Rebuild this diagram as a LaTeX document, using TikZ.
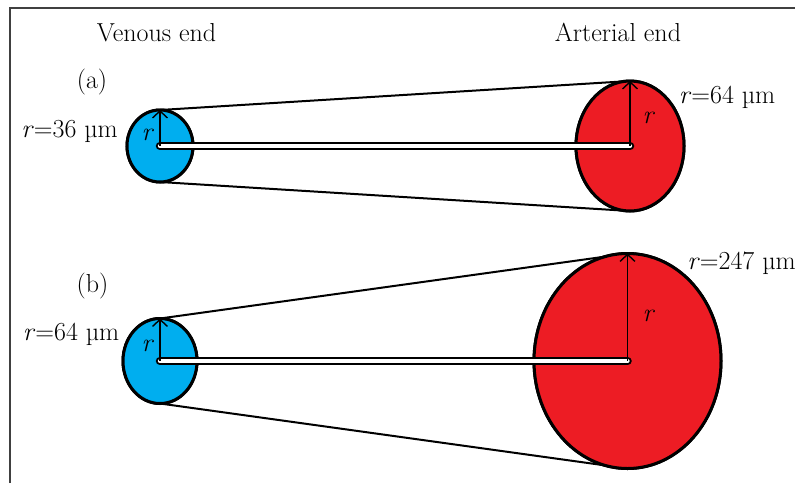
\documentclass[tikz,border=0pt]{standalone}
\usepackage{fontspec}
\usetikzlibrary{shapes.geometric,arrows.meta}
\definecolor{venous}{RGB}{0,174,239}
\definecolor{arterial}{RGB}{237,28,36}
\tikzset{
  lbl/.style={font=\fontsize{26}{30}\selectfont, inner sep=0pt},
  rlbl/.style={font=\fontsize{26}{30}\selectfont\itshape, inner sep=0pt},
  vessel/.style={ellipse, draw=black, line width=3pt, inner sep=0pt, outer sep=0pt},
  taper/.style={line width=2pt},
  radius/.style={line width=1.4pt, -{Straight Barb[length=7pt,width=15pt,line width=1.4pt]}},
}
\newcommand{\tube}[2]{%
  \draw[line width=8.5pt, line cap=round] (#1.center) -- (#2.center);
  \draw[white, line width=4.3pt, line cap=round] (#1.center) -- (#2.center);}
\begin{document}
\begin{tikzpicture}[x=1pt,y=-1pt]
\useasboundingbox (0,0) rectangle (795,483);
\draw[line width=2pt, black!75] (10,483) -- (10,8) -- (795,8);
% labels
\node[lbl, anchor=base] (ven) at (156.5,41) {Venous end};
\node[lbl, anchor=base] (art) at (618,41) {Arterial end};
\node[lbl] (la) at (92,82) {(a)};
\node[lbl] (lb) at (92.5,286) {(b)};
% (a)
\node[vessel, fill=venous, minimum width=66pt, minimum height=72pt] (va) at (160,146) {};
\node[vessel, fill=arterial, minimum width=108pt, minimum height=130pt] (ra) at (630,146) {};
\draw[taper] (va.north) -- (ra.north);
\draw[taper] (va.south) -- (ra.south);
\node[vessel, fill=venous, minimum width=66pt, minimum height=72pt] at (160,146) {};
\node[vessel, fill=arterial, minimum width=108pt, minimum height=130pt] at (630,146) {};
\tube{va}{ra}
\draw[radius] (va.center) -- (va.north);
\draw[radius] (ra.center) -- (ra.north);
\node[rlbl] (rva) at (147,135) {r};
\node[rlbl] (rra) at (648,118) {r};
\node[lbl, anchor=base] (tva) at (69.5,137) {\textit{r}=36 µm};
\node[lbl, anchor=base] (tra) at (727,103) {\textit{r}=64 µm};
% (b)
\node[vessel, fill=venous, minimum width=74pt, minimum height=85pt] (vb) at (160,361) {};
\node[vessel, fill=arterial, minimum width=187pt, minimum height=215pt] (rb) at (627.5,361) {};
\draw[taper] (vb.north) -- (rb.north);
\draw[taper] (vb.south) -- (rb.south);
\node[vessel, fill=venous, minimum width=74pt, minimum height=85pt] at (160,361) {};
\node[vessel, fill=arterial, minimum width=187pt, minimum height=215pt] at (627.5,361) {};
\tube{vb}{rb}
\draw[radius] (vb.center) -- (vb.north);
\draw[radius] (rb.center) -- (rb.north);
\node[rlbl] (rvb) at (147,346) {r};
\node[rlbl] (rrb) at (648,316) {r};
\node[lbl, anchor=base] (tvb) at (71,340) {\textit{r}=64 µm};
\node[lbl, anchor=base] (trb) at (741.5,269) {\textit{r}=247 µm};
\end{tikzpicture}
\end{document}
